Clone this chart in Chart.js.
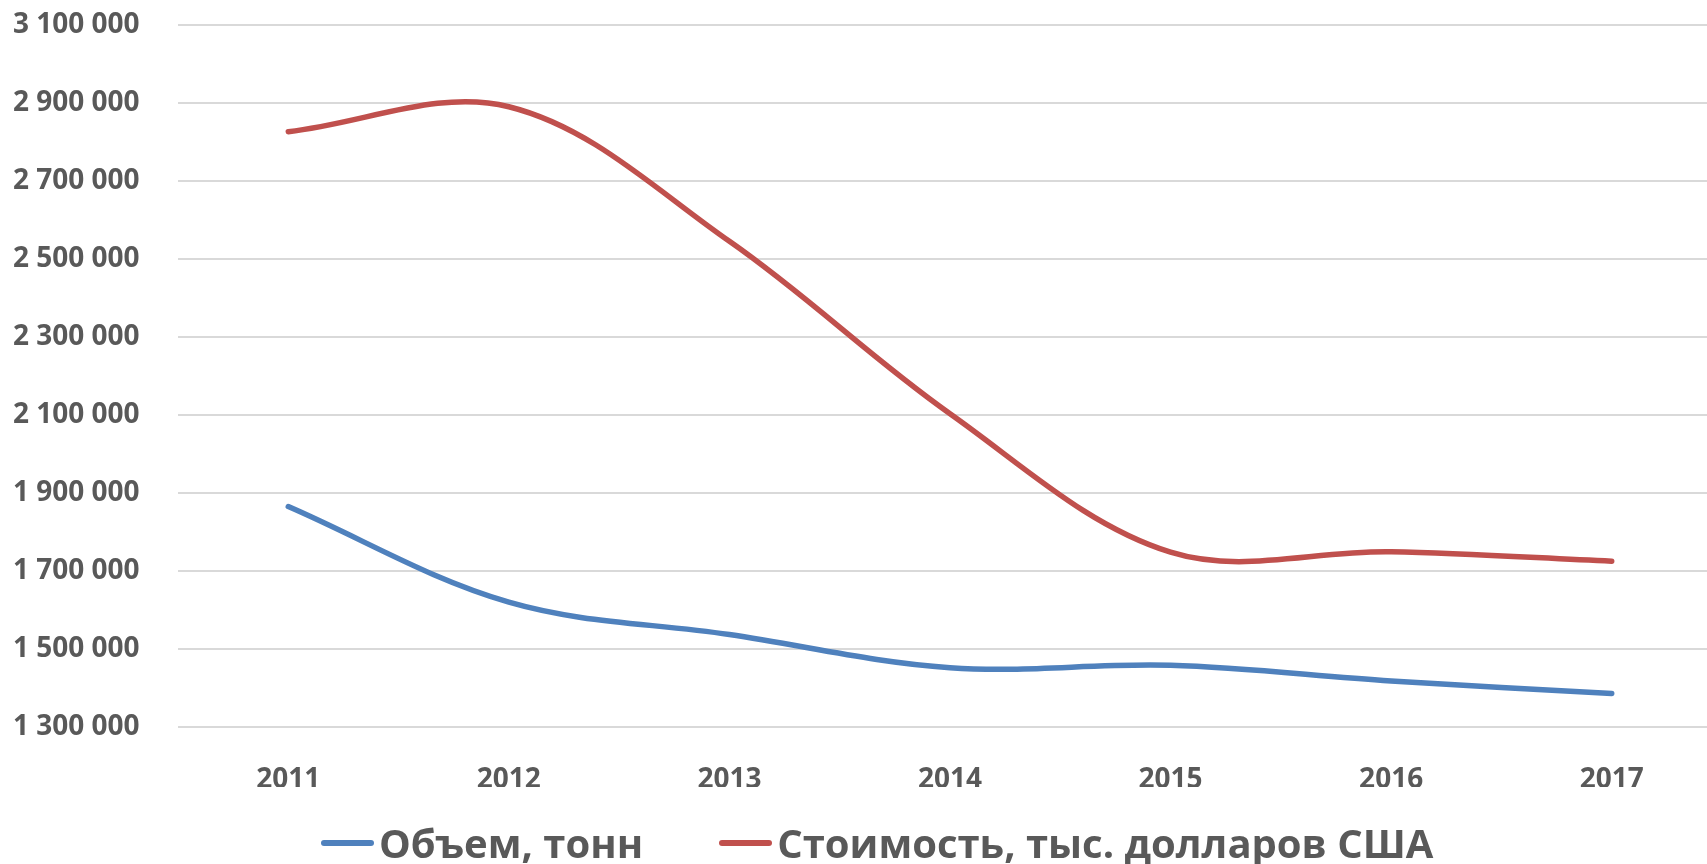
<!DOCTYPE html>
<html lang="ru">
<head>
<meta charset="utf-8">
<title>Объем и стоимость</title>
<script src="https://cdn.jsdelivr.net/npm/chart.js@4/dist/chart.umd.min.js"></script>
<style>
  html, body { margin: 0; padding: 0; background: #fff; overflow: hidden; }
  #wrap { position: relative; width: 1722px; height: 864px; }
  #legend {
    position: absolute; left: 321px; top: 822px; height: 42px;
    display: flex; align-items: center;
    font: bold 40px "Open Sans", sans-serif; color: #595959; line-height: 42px;
    white-space: nowrap;
  }
  #legend .item { display: flex; align-items: center; }
  #legend .item + .item { margin-left: 76px; }
  #legend .swatch { display: inline-block; width: 53px; height: 6px; border-radius: 3px; margin-right: 5px; }
</style>
</head>
<body>
<div id="wrap">
  <canvas id="trade-chart"></canvas>
  <div id="legend"></div>
</div>
<script>
// data
const years = ["2011", "2012", "2013", "2014", "2015", "2016", "2017"];
const volume = [1865000, 1620000, 1537000, 1452000, 1458000, 1418000, 1386000];
const cost = [2826000, 2890000, 2545000, 2103000, 1748000, 1749000, 1725000];
const volumeLabel = "Объем, тонн";
const costLabel = "Стоимость, тыс. долларов США";
const yMin = 1300000;
const yMax = 3100000;
const yStep = 200000;

document.addEventListener("DOMContentLoaded", () => {
  const ctx = document.getElementById("trade-chart").getContext("2d");
  const legendBox = document.getElementById("legend");
  const grey = "#595959";
  const tickFont = { family: "'Open Sans', sans-serif", size: 28, weight: "bold" };

  const formatNumber = (v) => String(v).replace(/\B(?=(\d{3})+(?!\d))/g, " ");

  const chart = new Chart(ctx, {
    type: "line",
    data: {
      labels: years,
      datasets: [
        {
          label: volumeLabel,
          data: volume,
          borderColor: "#4F81BD",
          borderWidth: 5.5,
          borderCapStyle: "round",
          pointRadius: 0,
          tension: 0.35,
        },
        {
          label: costLabel,
          data: cost,
          borderColor: "#C0504D",
          borderWidth: 5.5,
          borderCapStyle: "round",
          pointRadius: 0,
          tension: 0.35,
        },
      ],
    },
    options: {
      responsive: true,
      maintainAspectRatio: false,
      animation: false,
      layout: { padding: { top: 0, left: 13, right: 0, bottom: 77 } },
      plugins: {
        tooltip: { enabled: false },
        legend: { display: false },
      },
      scales: {
        x: {
          offset: true,
          grid: { display: false },
          border: { display: false },
          ticks: { padding: 28, color: grey, font: tickFont },
          afterFit: (scale) => { scale.height = 60; },
        },
        y: {
          min: yMin,
          max: yMax,
          grid: { color: "#d9d9d9", lineWidth: 2, drawTicks: false },
          border: { display: false },
          ticks: {
            stepSize: yStep,
            padding: 8,
            crossAlign: "far",
            color: grey,
            font: tickFont,
            callback: (value) => formatNumber(value),
          },
          afterFit: (scale) => { scale.width = 165; },
        },
      },
    },
  });

  // html legend: short line + name
  chart.data.datasets.forEach((ds) => {
    const item = document.createElement("div");
    item.className = "item";
    item.innerHTML = `<span class="swatch" style="background:${ds.borderColor}"></span><span>${ds.label}</span>`;
    legendBox.appendChild(item);
  });
});
</script>
</body>
</html>
